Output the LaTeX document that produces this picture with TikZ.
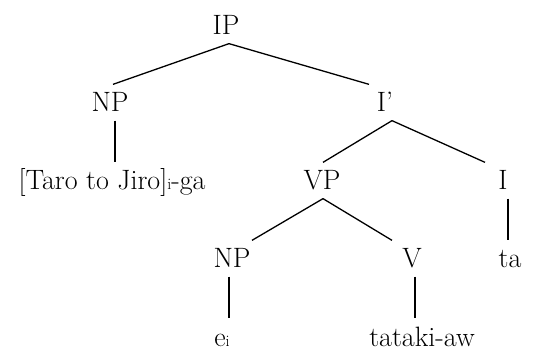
\documentclass[tikz,border=0pt]{standalone}
\usepackage{tikz}
\newcommand{\ix}[1]{{\fontsize{16}{16}\selectfont #1}}
\begin{document}
\begin{tikzpicture}[x=1pt, y=-1pt, line width=1.3pt,
    every node/.append style={anchor=base, inner sep=0pt, text height=27pt, text depth=8pt,
      font=\fontsize{28}{33}\selectfont}]
  \useasboundingbox (0,0) rectangle (540,352);
  \node (IP)  at (226,35)  {IP};
  \node (NPa) at (110,112) {NP};
  \node (Ib)  at (385,112) {I'};
  \node (Sb)  at (112,190) {[Taro to Jiro]\ix{i}-ga};
  \node (VP)  at (322,190) {VP};
  \node (I)   at (503,190) {I};
  \node (NPb) at (232,268) {NP};
  \node (V)   at (412,268) {V};
  \node (ta)  at (510,268) {ta};
  \node (e)   at (222,346) {e\ix{i}};
  \node (Vw)  at (422,346) {tataki-aw};
  \draw ([xshift=3pt]IP.south) -- ([xshift=3pt]NPa.north);
  \draw ([xshift=3pt]IP.south) -- ([xshift=-16pt]Ib.north);
  \draw ([xshift=5pt]NPa.south) -- ([xshift=3pt]Sb.north);
  \draw ([xshift=7pt]Ib.south) -- ([xshift=1pt]VP.north);
  \draw ([xshift=7pt]Ib.south) -- ([xshift=-18pt]I.north);
  \draw ([xshift=1pt]VP.south) -- ([xshift=20pt]NPb.north);
  \draw ([xshift=1pt]VP.south) -- ([xshift=-20pt]V.north);
  \draw ([xshift=5pt]I.south) -- ([xshift=-2pt]ta.north);
  \draw ([xshift=-3pt]NPb.south) -- ([xshift=7pt]e.north);
  \draw ([xshift=3pt]V.south) -- ([xshift=-7pt]Vw.north);
\end{tikzpicture}
\end{document}
